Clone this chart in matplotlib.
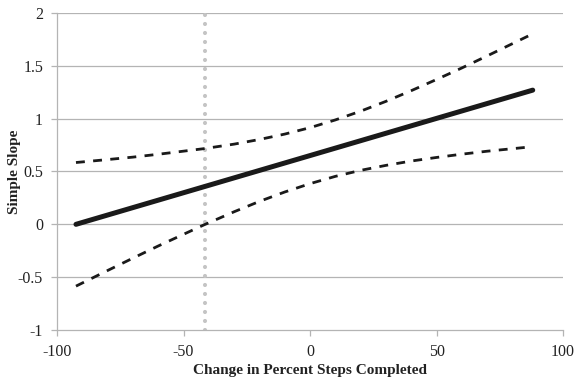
import matplotlib
matplotlib.use("Agg")
import matplotlib.pyplot as plt

# simple slope of the outcome across change in percent steps completed
x_line = [-92.5, 88]
slope = [0.0, 1.27]

# confidence band
x_band = [-92.5, -80, -70, -60, -42, -30, -20, -10, 0, 10, 20, 30, 40, 50, 60, 70, 88]
upper = [0.585, 0.613, 0.636, 0.663, 0.716, 0.759, 0.803, 0.854, 0.915, 0.988,
         1.071, 1.164, 1.265, 1.371, 1.480, 1.594, 1.803]
lower = [-0.585, -0.437, -0.320, -0.205, -0.006, 0.119, 0.217, 0.306, 0.385, 0.454,
         0.511, 0.558, 0.599, 0.633, 0.664, 0.692, 0.735]

# region of significance boundary
x_sig = -41.5

xticks = [-100, -50, 0, 50, 100]
yticks = [-1, -0.5, 0, 0.5, 1, 1.5, 2]
ytick_labels = ["-1", "-0.5", "0", "0.5", "1", "1.5", "2"]

plt.rcParams["font.family"] = ["Liberation Serif", "DejaVu Serif"]
plt.rcParams["axes.unicode_minus"] = False

fig = plt.figure(figsize=(5.74, 3.78), dpi=100)
ax = fig.add_axes([0.0993, 0.127, 0.8817, 0.8386])

grid_c = "#b4b4b4"
for y in yticks[1:]:
    ax.axhline(y, color=grid_c, lw=0.9, zorder=0)

ax.axvline(x_sig, color="#c4c4c4", lw=3.0, ls=(0, (0.01, 2.15)),
           dash_capstyle="round", zorder=1)

ax.plot(x_band, upper, color="#1a1a1a", lw=2.0, ls=(0, (3.2, 3.0)), zorder=2)
ax.plot(x_band, lower, color="#1a1a1a", lw=2.0, ls=(0, (3.2, 3.0)), zorder=2)
ax.plot(x_line, slope, color="#1a1a1a", lw=3.6, solid_capstyle="round", zorder=3)

ax.set_xlim(-100, 100)
ax.set_ylim(-1, 2)
ax.set_xticks(xticks)
ax.set_yticks(yticks)
ax.set_yticklabels(ytick_labels)

for s in ["top", "right"]:
    ax.spines[s].set_visible(False)
for s in ["left", "bottom"]:
    ax.spines[s].set_color(grid_c)
    ax.spines[s].set_linewidth(0.9)
ax.tick_params(axis="both", colors=grid_c, length=4, width=0.9, labelsize=11.5,
               labelcolor="#222222")
ax.tick_params(axis="x", pad=6)
ax.tick_params(axis="y", pad=6)

ax.set_xlabel("Change in Percent Steps Completed", fontsize=11, fontweight="bold",
              color="#222222")
ax.set_ylabel("Simple Slope", fontsize=11, fontweight="bold", color="#222222")
ax.xaxis.set_label_coords(0.5, -0.108)
ax.yaxis.set_label_coords(-0.071, 0.5)

fig.savefig("out.png", dpi=100)
